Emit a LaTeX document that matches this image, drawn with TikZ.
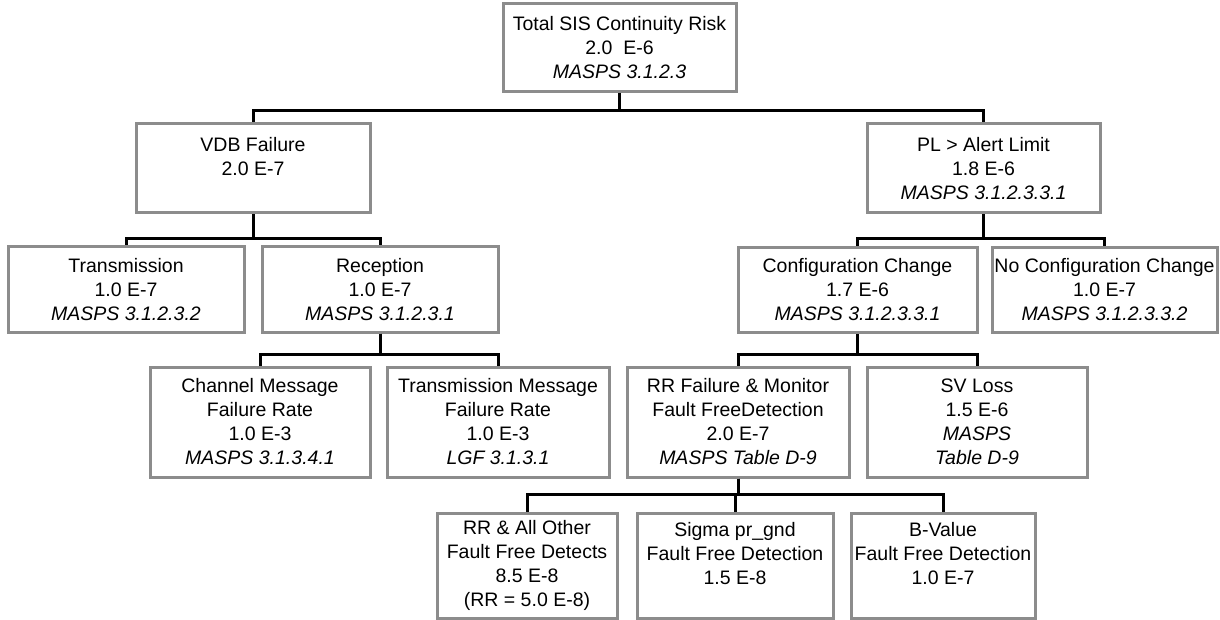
\documentclass[tikz,border=0pt]{standalone}
\usepackage{fontspec}
\setmainfont{Liberation Sans}
\usepackage{tikz}
\usetikzlibrary{calc}
\definecolor{boxgray}{RGB}{140,140,140}

\begin{document}
\begin{tikzpicture}[x=1pt,y=-1pt,
	box/.style={draw=boxgray,line width=3pt,inner sep=0pt,align=center,
		font=\fontsize{19.5}{24}\selectfont},
	link/.style={draw=black,line width=3pt}]
	\useasboundingbox (0,0) rectangle (1220,620);
	\node[box,minimum width=233,minimum height=88] (top) at (619.5,48) {Total SIS Continuity Risk\\2.0~ E-6\\\textit{MASPS 3.1.2.3}};
	\node[box,minimum width=234,minimum height=89] (vdb) at (253,168.5) {VDB Failure\\2.0 E-7\\\mbox{}};
	\node[box,minimum width=233,minimum height=89] (pl) at (983.5,168.5) {PL > Alert Limit\\1.8 E-6\\\textit{MASPS 3.1.2.3.3.1}};
	\node[box,minimum width=236,minimum height=85] (trans) at (126,289.5) {Transmission\\1.0 E-7\\\textit{MASPS 3.1.2.3.2}};
	\node[box,minimum width=236,minimum height=85] (recep) at (380,289.5) {Reception\\1.0 E-7\\\textit{MASPS 3.1.2.3.1}};
	\node[box,minimum width=239,minimum height=85] (cfg) at (857.5,290) {Configuration Change\\1.7 E-6\\\textit{MASPS 3.1.2.3.3.1}};
	\node[box,minimum width=225,minimum height=85] (nocfg) at (1104.5,290) {No Configuration Change\\1.0 E-7\\\textit{MASPS 3.1.2.3.3.2}};
	\node[box,minimum width=220,minimum height=110] (chan) at (260,422) {Channel Message\\Failure Rate\\1.0 E-3\\\textit{MASPS 3.1.3.4.1}};
	\node[box,minimum width=222,minimum height=110] (tmsg) at (498,422) {Transmission Message\\Failure Rate\\1.0 E-3\\\textit{LGF 3.1.3.1}};
	\node[box,minimum width=222,minimum height=110] (rrfail) at (738,422) {RR Failure \& Monitor\\Fault FreeDetection\\2.0 E-7\\\textit{MASPS Table D-9}};
	\node[box,minimum width=220,minimum height=110] (svloss) at (977,422) {SV Loss\\1.5 E-6\\\textit{MASPS}\\\textit{Table D-9}};
	\node[box,minimum width=180,minimum height=105] (rrall) at (527,565.5) {RR \& All Other\\Fault Free Detects\\8.5 E-8\\(RR = 5.0 E-8)};
	\node[box,minimum width=196,minimum height=105] (sigma) at (735,565.5) {Sigma pr\_gnd\\Fault Free Detection\\1.5 E-8\\\mbox{}};
	\node[box,minimum width=184,minimum height=105] (bval) at (943,565.5) {B-Value\\Fault Free Detection\\1.0 E-7\\\mbox{}};
	% tree lines
	\draw[link] (top.south) -- ++(0,17) -| (vdb.north);
	\draw[link] (top.south) -- ++(0,17) -| (pl.north);
	\draw[link] (vdb.south) -- ++(0,24) -| (trans.north);
	\draw[link] (vdb.south) -- ++(0,24) -| (recep.north);
	\draw[link] (pl.south) -- ++(0,24) -| (cfg.north);
	\draw[link] (pl.south) -- ++(0,24) -| (nocfg.north);
	\draw[link] (recep.south) -- ++(0,21) -| (chan.north);
	\draw[link] (recep.south) -- ++(0,21) -| (tmsg.north);
	\draw[link] (cfg.south) -- ++(0,20) -| (rrfail.north);
	\draw[link] (cfg.south) -- ++(0,20) -| (svloss.north);
	\draw[link] (rrfail.south) -- ++(0,16) -| (rrall.north);
	\draw[link] (rrfail.south) -- ++(0,16) -| (sigma.north);
	\draw[link] (rrfail.south) -- ++(0,16) -| (bval.north);
\end{tikzpicture}
\end{document}
